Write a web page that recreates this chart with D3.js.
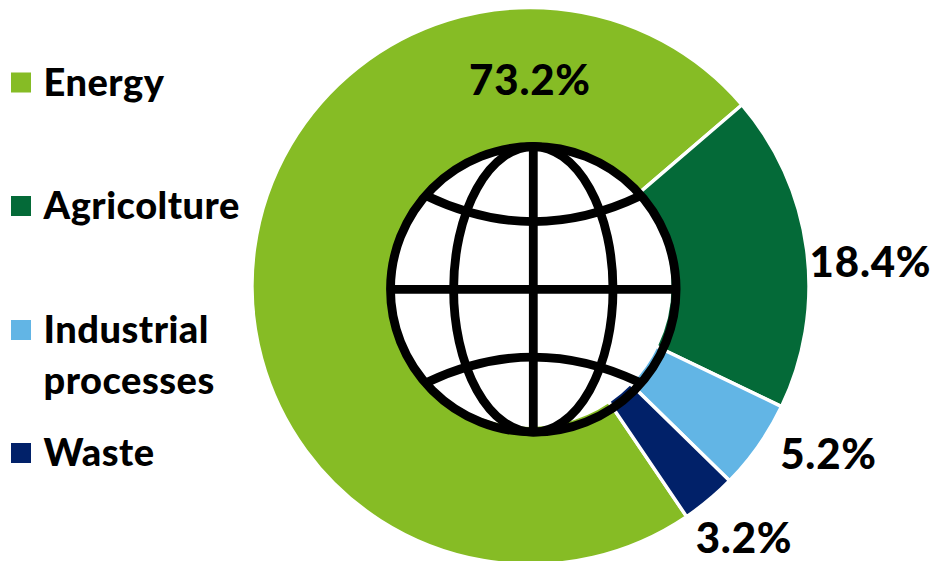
<!DOCTYPE html>
<html>
<head>
<meta charset="utf-8">
<style>
html, body { margin: 0; padding: 0; background: #fff; }
svg { display: block; }
text { font-family: Lato, "Open Sans", sans-serif; font-weight: 900; fill: #000; }
</style>
<script src="https://cdn.jsdelivr.net/npm/d3@7"></script>
</head>
<body>
<svg id="chart" width="935" height="561"></svg>
<script>
// Greenhouse gas emissions by sector, share of total
const sectors = ["Energy", "Agricolture", "Industrial processes", "Waste"];
const shares = [73.2, 18.4, 5.2, 3.2];
const shareLabels = ["73.2%", "18.4%", "5.2%", "3.2%"];
const sectorColors = ["#86BC25", "#046A38", "#62B5E5", "#012169"];

const W = 935, H = 561;
const cx = 530.5, cy = 286, outerR = 278.5, innerR = 139.3;
const startDeg = 145.9;

const svg = d3.select("#chart").attr("viewBox", [0, 0, W, H]);

// Donut ring, with Energy starting on the lower right and running clockwise
const pie = d3.pie().sort(null)
  .startAngle(startDeg * Math.PI / 180)
  .endAngle((startDeg + 360) * Math.PI / 180);
const arc = d3.arc().innerRadius(innerR).outerRadius(outerR);

svg.append("g").attr("transform", `translate(${cx},${cy})`)
  .selectAll("path")
  .data(pie(shares))
  .join("path")
  .attr("d", arc)
  .attr("fill", (d, i) => sectorColors[i])
  .attr("stroke", "#fff")
  .attr("stroke-width", 3.4)
  .attr("stroke-linejoin", "miter");

// Percentage labels placed around the ring
const labelPos = [
  { x: 530, y: 94.5 },
  { x: 870.5, y: 276.5 },
  { x: 828.5, y: 469 },
  { x: 744, y: 552.5 }
];
svg.append("g").selectAll("text")
  .data(shareLabels)
  .join("text")
  .attr("x", (d, i) => labelPos[i].x)
  .attr("y", (d, i) => labelPos[i].y)
  .attr("font-size", 42)
  .attr("letter-spacing", 0.8)
  .attr("text-anchor", "middle")
  .text(d => d);

// Legend: swatches and sector names, Industrial processes on two lines
const legendRows = [
  { top: 72.5, lines: [{ t: "Energy", y: 95.5 }] },
  { top: 196, lines: [{ t: "Agricolture", y: 218.5 }] },
  { top: 320, lines: [{ t: "Industrial", y: 342.5 }, { t: "processes", y: 393.5 }] },
  { top: 443, lines: [{ t: "Waste", y: 465.5 }] }
];
const legend = svg.append("g");
legendRows.forEach((row, i) => {
  legend.append("rect")
    .attr("x", 11).attr("y", row.top)
    .attr("width", 20).attr("height", 20)
    .attr("fill", sectorColors[i]);
  row.lines.forEach(line => {
    legend.append("text")
      .attr("x", 43.5).attr("y", line.y)
      .attr("font-size", 38)
      .attr("letter-spacing", 0.5)
      .text(line.t);
  });
});

// Globe icon sitting over the hole of the donut; line work only, no fill
const gx = 533.3, gy = 289.3, gr = 142.8, gw = 8.8;
const globe = svg.append("g")
  .attr("transform", `translate(${gx},${gy})`)
  .attr("fill", "none")
  .attr("stroke", "#000")
  .attr("stroke-width", gw);

globe.append("circle").attr("r", gr);
globe.append("line").attr("x1", 0).attr("x2", 0).attr("y1", -gr).attr("y2", gr);
globe.append("line").attr("x1", -gr).attr("x2", gr).attr("y1", 0).attr("y2", 0);
globe.append("ellipse").attr("rx", 79.7).attr("ry", gr);
// Curved parallels above and below the equator
[-1, 1].forEach(s => {
  const p = d3.path();
  p.moveTo(-106, s * 93);
  p.quadraticCurveTo(0, s * 42.5, 106, s * 93);
  globe.append("path").attr("d", p.toString());
});
</script>
</body>
</html>
